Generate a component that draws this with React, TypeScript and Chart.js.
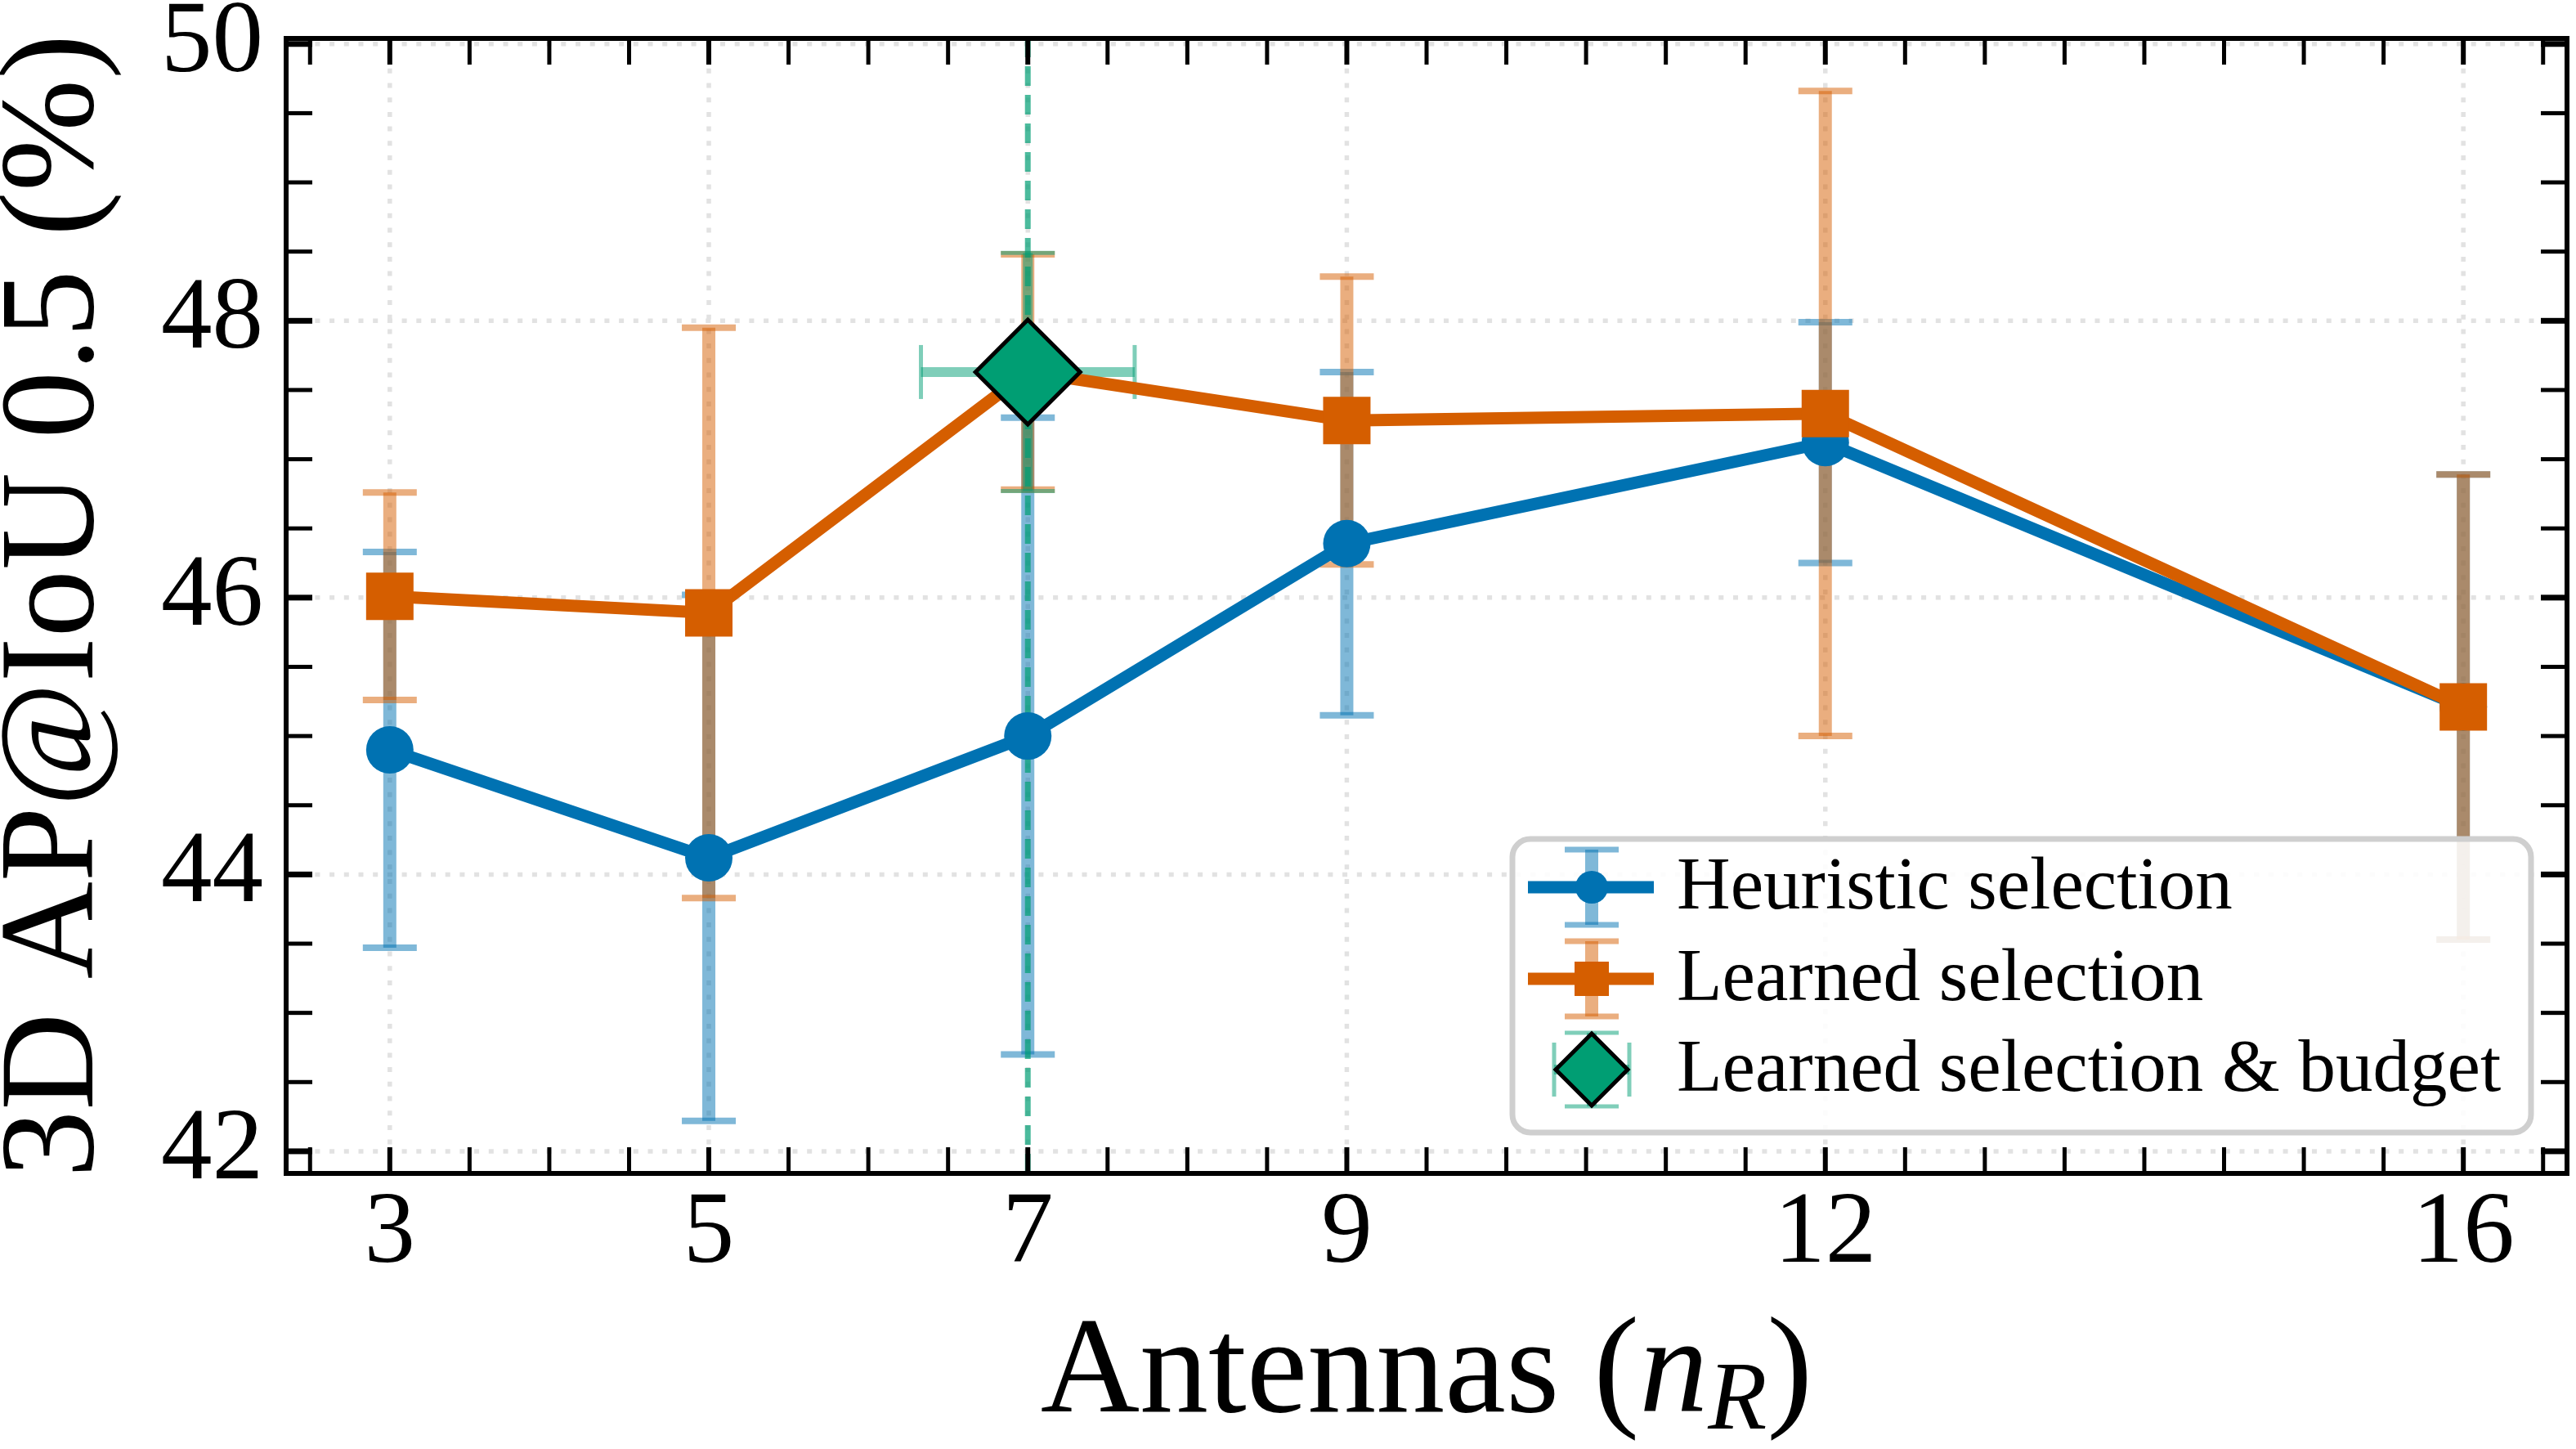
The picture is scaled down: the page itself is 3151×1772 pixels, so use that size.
import { useEffect, useRef } from "react";
import { Chart, registerables } from "chart.js";

Chart.register(...registerables);

// --- data ---
const antennas = [3, 5, 7, 9, 12, 16];
const heuristicMean = [44.9, 44.12, 45.0, 46.39, 47.12, 45.21];
const heuristicErr = [1.43, 1.9, 2.3, 1.24, 0.87, 1.68];
const learnedMean = [46.01, 45.89, 47.63, 47.28, 47.33, 45.21];
const learnedErr = [0.75, 2.06, 0.85, 1.04, 2.33, 1.68];
const budgetAntennas = [7];
const budgetMean = [47.63];
const budgetXErr = [0.67];
const budgetYErr = [0.86];

const xTickValues = [3, 5, 7, 9, 12, 16];
const yTickValues = [42, 44, 46, 48, 50];
const seriesLabels = ["Heuristic selection", "Learned selection", "Learned selection & budget"];
const yTitle = "3D AP@IoU 0.5 (%)";
const xTitleParts = ["Antennas (", "n", "R", ")"];

const BLUE = "#0072B2";
const ORANGE = "#D55E00";
const GREEN = "#009E73";
const BLUE_ERR = "rgba(0,114,178,0.5)";
const ORANGE_ERR = "rgba(213,94,0,0.5)";
const GREEN_ERR = "rgba(0,158,115,0.5)";
const GREEN_VLINE = "rgba(0,158,115,0.7)";
const GRID = "#e2e2e2";
const SERIF = "'Liberation Serif', 'Times New Roman', serif";

function seg(ctx: CanvasRenderingContext2D, x1: number, y1: number, x2: number, y2: number) {
  ctx.beginPath();
  ctx.moveTo(x1, y1);
  ctx.lineTo(x2, y2);
  ctx.stroke();
}

function yErrBars(chart: any, xs: number[], means: number[], errs: number[], color: string, w: number, capW: number, capT: number) {
  const { ctx, scales } = chart;
  ctx.strokeStyle = color;
  xs.forEach((xv, i) => {
    const px = scales.x.getPixelForValue(xv);
    const top = scales.y.getPixelForValue(means[i] + errs[i]);
    const bot = scales.y.getPixelForValue(means[i] - errs[i]);
    ctx.lineWidth = w;
    seg(ctx, px, top, px, bot);
    ctx.lineWidth = capT;
    seg(ctx, px - capW / 2, top, px + capW / 2, top);
    seg(ctx, px - capW / 2, bot, px + capW / 2, bot);
  });
}

function xErrBars(chart: any, xs: number[], means: number[], errs: number[], color: string, w: number, capH: number, capT: number) {
  const { ctx, scales } = chart;
  ctx.strokeStyle = color;
  xs.forEach((xv, i) => {
    const py = scales.y.getPixelForValue(means[i]);
    const l = scales.x.getPixelForValue(xv - errs[i]);
    const r = scales.x.getPixelForValue(xv + errs[i]);
    ctx.lineWidth = w;
    seg(ctx, l, py, r, py);
    ctx.lineWidth = capT;
    seg(ctx, l, py - capH / 2, l, py + capH / 2);
    seg(ctx, r, py - capH / 2, r, py + capH / 2);
  });
}

function drawLegend(chart: any) {
  const { ctx, chartArea: a } = chart;
  const R = a.right - 44;
  const B = a.bottom - 50;
  const W = 1246;
  const H = 359;
  const L = R - W;
  const T = B - H;
  ctx.save();
  ctx.beginPath();
  ctx.roundRect(L, T, W, H, 22);
  ctx.fillStyle = "rgba(255,255,255,0.88)";
  ctx.fill();
  ctx.lineWidth = 7;
  ctx.strokeStyle = "#cfcfcf";
  ctx.stroke();

  const cx = L + 97;
  const rows = [T + 59, T + 171, T + 282];
  ctx.lineCap = "butt";

  // heuristic
  let cy = rows[0];
  ctx.strokeStyle = BLUE_ERR;
  ctx.lineWidth = 16;
  seg(ctx, cx, cy - 46, cx, cy + 46);
  ctx.lineWidth = 7;
  seg(ctx, cx - 33, cy - 46, cx + 33, cy - 46);
  seg(ctx, cx - 33, cy + 46, cx + 33, cy + 46);
  ctx.strokeStyle = BLUE;
  ctx.lineWidth = 15;
  seg(ctx, L + 19, cy, L + 173, cy);
  ctx.fillStyle = BLUE;
  ctx.beginPath();
  ctx.arc(cx, cy, 20, 0, Math.PI * 2);
  ctx.fill();

  // learned
  cy = rows[1];
  ctx.strokeStyle = ORANGE_ERR;
  ctx.lineWidth = 16;
  seg(ctx, cx, cy - 46, cx, cy + 46);
  ctx.lineWidth = 7;
  seg(ctx, cx - 33, cy - 46, cx + 33, cy - 46);
  seg(ctx, cx - 33, cy + 46, cx + 33, cy + 46);
  ctx.strokeStyle = ORANGE;
  ctx.lineWidth = 15;
  seg(ctx, L + 19, cy, L + 173, cy);
  ctx.fillStyle = ORANGE;
  ctx.fillRect(cx - 21, cy - 21, 42, 42);

  // budget
  cy = rows[2];
  ctx.strokeStyle = GREEN_ERR;
  ctx.lineWidth = 12;
  seg(ctx, cx, cy - 45, cx, cy + 45);
  seg(ctx, cx - 46, cy, cx + 46, cy);
  ctx.lineWidth = 5;
  seg(ctx, cx - 33, cy - 45, cx + 33, cy - 45);
  seg(ctx, cx - 33, cy + 45, cx + 33, cy + 45);
  seg(ctx, cx - 46, cy - 33, cx - 46, cy + 33);
  seg(ctx, cx + 46, cy - 33, cx + 46, cy + 33);
  ctx.beginPath();
  ctx.moveTo(cx - 44, cy);
  ctx.lineTo(cx, cy - 44);
  ctx.lineTo(cx + 44, cy);
  ctx.lineTo(cx, cy + 44);
  ctx.closePath();
  ctx.fillStyle = GREEN;
  ctx.fill();
  ctx.lineWidth = 5;
  ctx.strokeStyle = "#000";
  ctx.lineJoin = "miter";
  ctx.stroke();

  ctx.fillStyle = "#000";
  ctx.font = `91px ${SERIF}`;
  ctx.textAlign = "left";
  ctx.textBaseline = "middle";
  seriesLabels.forEach((t, i) => ctx.fillText(t, L + 201, rows[i] + 2));
  ctx.restore();
}

function drawXTitle(chart: any) {
  const { ctx, chartArea: a } = chart;
  const size = 168;
  const fonts = [
    `${size}px ${SERIF}`,
    `italic ${size}px ${SERIF}`,
    `italic ${Math.round(size * 0.7)}px ${SERIF}`,
    `${size}px ${SERIF}`,
  ];
  const shifts = [0, 0, 21, 0];
  ctx.save();
  ctx.fillStyle = "#000";
  ctx.textAlign = "left";
  ctx.textBaseline = "alphabetic";
  const widths = xTitleParts.map((p, i) => {
    ctx.font = fonts[i];
    return ctx.measureText(p).width;
  });
  const total = widths.reduce((s, w) => s + w, 0);
  let x = (a.left + a.right) / 2 - total / 2;
  const base = 1726;
  xTitleParts.forEach((p, i) => {
    ctx.font = fonts[i];
    ctx.fillText(p, x, base + shifts[i]);
    x += widths[i];
  });
  ctx.restore();
}

const decor = {
  id: "decor",
  beforeDatasetsDraw(chart: any) {
    const { ctx, chartArea: a, scales } = chart;
    ctx.save();
    ctx.beginPath();
    ctx.rect(a.left, a.top, a.width, a.height);
    ctx.clip();
    // dotted grid
    ctx.strokeStyle = GRID;
    ctx.lineWidth = 5.5;
    ctx.lineCap = "butt";
    ctx.setLineDash([6, 11.7]);
    xTickValues.forEach((v) => {
      const px = scales.x.getPixelForValue(v);
      seg(ctx, px, a.bottom, px, a.top);
    });
    yTickValues.forEach((v) => {
      const py = scales.y.getPixelForValue(v);
      seg(ctx, a.left, py, a.right, py);
    });
    ctx.setLineDash([]);
    // error bars
    yErrBars(chart, antennas, heuristicMean, heuristicErr, BLUE_ERR, 16, 66, 8);
    yErrBars(chart, antennas, learnedMean, learnedErr, ORANGE_ERR, 16, 66, 8);
    yErrBars(chart, budgetAntennas, budgetMean, budgetYErr, GREEN_ERR, 12, 66, 5);
    xErrBars(chart, budgetAntennas, budgetMean, budgetXErr, GREEN_ERR, 12, 66, 5);
    // budget marker vertical line
    ctx.strokeStyle = GREEN_VLINE;
    ctx.lineWidth = 7;
    ctx.setLineDash([24, 11]);
    budgetAntennas.forEach((v) => {
      const px = scales.x.getPixelForValue(v);
      seg(ctx, px, a.bottom, px, a.top);
    });
    ctx.restore();
  },
  afterDatasetsDraw(chart: any) {
    const { ctx, chartArea: a, scales } = chart;
    ctx.save();
    ctx.strokeStyle = "#000";
    ctx.lineCap = "butt";
    const step = 0.5;
    const len = 32;
    for (let k = Math.ceil(scales.x.min / step); k * step <= scales.x.max; k++) {
      const v = k * step;
      const px = scales.x.getPixelForValue(v);
      ctx.lineWidth = xTickValues.includes(v) ? 6 : 5;
      seg(ctx, px, a.bottom, px, a.bottom - len);
      seg(ctx, px, a.top, px, a.top + len);
    }
    for (let k = Math.ceil(scales.y.min / step); k * step <= scales.y.max; k++) {
      const v = k * step;
      const py = scales.y.getPixelForValue(v);
      ctx.lineWidth = yTickValues.includes(v) ? 7 : 5;
      seg(ctx, a.left, py, a.left + len, py);
      seg(ctx, a.right, py, a.right - len, py);
    }
    ctx.lineWidth = 6;
    ctx.strokeRect(a.left, a.top, a.width, a.height);
    ctx.restore();
    drawLegend(chart);
    drawXTitle(chart);
  },
};

function zeroPadding(s: any) {
  s.paddingLeft = 0;
  s.paddingRight = 0;
  s.paddingTop = 0;
  s.paddingBottom = 0;
}

export default function App() {
  const canvasRef = useRef<HTMLCanvasElement>(null);
  const chartRef = useRef<Chart | null>(null);

  useEffect(() => {
    if (!canvasRef.current) return;
    document.body.style.margin = "0";
    document.body.style.overflow = "hidden";
    Chart.defaults.font.family = SERIF;
    Chart.defaults.color = "#000";

    chartRef.current = new Chart(canvasRef.current, {
      type: "line",
      data: {
        datasets: [
          {
            label: seriesLabels[2],
            data: budgetAntennas.map((x, i) => ({ x, y: budgetMean[i] })),
            showLine: false,
            pointStyle: "rectRot",
            pointRadius: 64,
            pointBackgroundColor: GREEN,
            pointBorderColor: "#000",
            pointBorderWidth: 5,
            order: 0,
          },
          {
            label: seriesLabels[1],
            data: antennas.map((x, i) => ({ x, y: learnedMean[i] })),
            borderColor: ORANGE,
            borderWidth: 15,
            pointStyle: "rect",
            pointRadius: 41,
            pointBackgroundColor: ORANGE,
            pointBorderWidth: 0,
            order: 1,
          },
          {
            label: seriesLabels[0],
            data: antennas.map((x, i) => ({ x, y: heuristicMean[i] })),
            borderColor: BLUE,
            borderWidth: 15,
            pointStyle: "circle",
            pointRadius: 29,
            pointBackgroundColor: BLUE,
            pointBorderWidth: 0,
            order: 2,
          },
        ],
      },
      options: {
        animation: false,
        responsive: false,
        devicePixelRatio: 1,
        events: [],
        layout: { autoPadding: false, padding: { left: 0, top: 47, right: 11, bottom: 0 } },
        plugins: { legend: { display: false }, tooltip: { enabled: false } },
        scales: {
          x: {
            type: "linear",
            min: 2.35,
            max: 16.65,
            afterBuildTicks: (s: any) => {
              s.ticks = xTickValues.map((value) => ({ value }));
            },
            afterFit: (s: any) => {
              s.height = 337;
              zeroPadding(s);
            },
            grid: { display: false, drawTicks: false },
            border: { display: false },
            ticks: {
              autoSkip: false,
              maxRotation: 0,
              padding: 0,
              color: "#000",
              font: { family: SERIF, size: 125, lineHeight: 1.2 },
              callback: (v: any) => String(v),
            },
          },
          y: {
            type: "linear",
            min: 41.84,
            max: 50.04,
            afterBuildTicks: (s: any) => {
              s.ticks = yTickValues.map((value) => ({ value }));
            },
            afterFit: (s: any) => {
              s.width = 350;
              zeroPadding(s);
            },
            grid: { display: false, drawTicks: false },
            border: { display: false },
            ticks: {
              padding: 28,
              color: "#000",
              font: { family: SERIF, size: 125, lineHeight: 0.8 },
              callback: (v: any) => String(v),
            },
            title: {
              display: true,
              text: yTitle,
              color: "#000",
              padding: 0,
              font: { family: SERIF, size: 165, lineHeight: 0.84 },
            },
          },
        },
      },
      plugins: [decor],
    } as any);

    return () => {
      chartRef.current?.destroy();
      chartRef.current = null;
    };
  }, []);

  return (
    <div style={{ width: 3151, height: 1772, background: "#fff" }}>
      <canvas ref={canvasRef} width={3151} height={1772} style={{ display: "block" }} />
    </div>
  );
}
